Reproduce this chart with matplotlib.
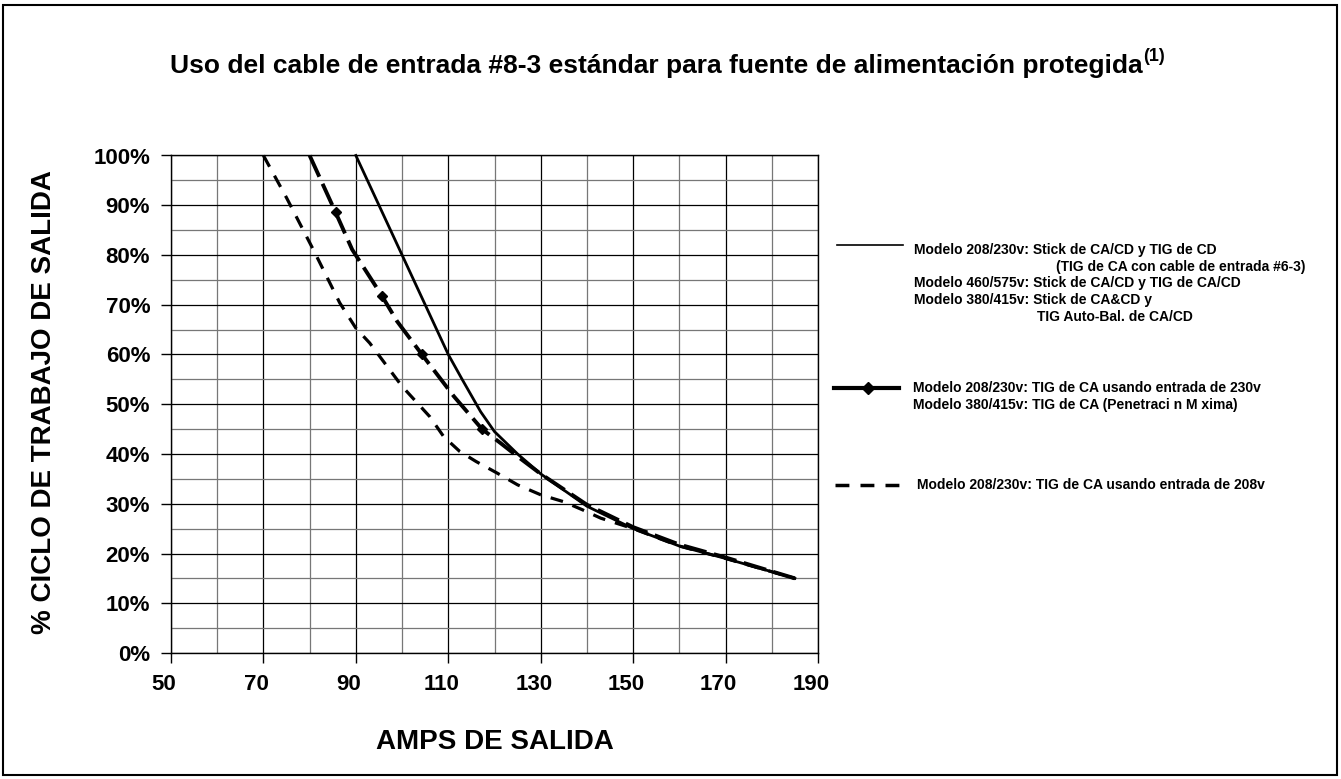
import matplotlib
matplotlib.use("Agg")
import matplotlib.pyplot as plt
import matplotlib.transforms as mtransforms
from matplotlib.lines import Line2D
from matplotlib.patches import Rectangle
from matplotlib.ticker import FuncFormatter

plt.rcParams['font.family'] = ['Liberation Sans', 'DejaVu Sans']
plt.rcParams['font.weight'] = 'bold'

# Data
amps_solid = [90, 100, 110, 113, 117, 120, 125, 130, 140, 150, 160, 170, 185]
duty_solid = [100, 80, 60, 55, 48.5, 44.5, 40, 36, 29.5, 25, 21.5, 19, 15]

amps_230 = [80, 85.6, 89.2, 95.7, 98.9, 104.3, 111.2, 117.3, 121.3, 125, 130, 140, 150, 160, 170, 185]
duty_230 = [100, 88.6, 81.1, 71.7, 66.7, 60, 51.6, 45, 42.2, 39.5, 36, 29.8, 25.3, 21.8, 19.2, 15]
diamond_idx = [1, 3, 5, 7]

amps_208 = [70, 75, 81, 86.5, 90, 93, 100, 106, 109, 112.5, 116, 120.5, 125, 130, 135, 139, 143, 150, 160, 170, 185]
duty_208 = [100, 91.5, 80.7, 70.4, 65.3, 62.3, 53.6, 47.5, 43.5, 40.5, 38.5, 36.2, 33.8, 31.8, 30.4, 28.8, 27.1, 25, 21.5, 19, 15]

x_ticks = [50, 70, 90, 110, 130, 150, 170, 190]
x_minor = [60, 80, 100, 120, 140, 160, 180]
y_ticks = [0, 10, 20, 30, 40, 50, 60, 70, 80, 90, 100]
y_minor = [5, 15, 25, 35, 45, 55, 65, 75, 85, 95]

title = "Uso del cable de entrada #8-3 estándar para fuente de alimentación protegida"
legend_solid = ["Modelo 208/230v: Stick de CA/CD y TIG de CD",
                "(TIG de CA con cable de entrada #6-3)",
                "Modelo 460/575v: Stick de CA/CD y TIG de CA/CD",
                "Modelo 380/415v: Stick de CA&CD y",
                "TIG Auto-Bal. de CA/CD"]
legend_230 = ["Modelo 208/230v: TIG de CA usando entrada de 230v",
              "Modelo 380/415v: TIG de CA (Penetraci n M xima)"]
legend_208 = ["Modelo 208/230v: TIG de CA usando entrada de 208v"]

W, H = 1341, 779
fig = plt.figure(figsize=(W / 100, H / 100), dpi=100)


def fx(px):
    return px / W


def fy(py):
    return 1 - py / H


ax = fig.add_axes([fx(171), fy(653), (818 - 171) / W, (653 - 155.5) / H])

dash_230 = (0, (6, 2))
dash_208 = (0, (4, 3.2))

ax.plot(amps_solid, duty_solid, color='black', lw=2, clip_on=False)
ax.plot(amps_230, duty_230, color='black', lw=2.8, linestyle=dash_230,
        marker='D', markersize=5, markevery=diamond_idx, clip_on=False)
ax.plot(amps_208, duty_208, color='black', lw=2.3, linestyle=dash_208, clip_on=False)

ax.set_xlim(50, 190)
ax.set_ylim(0, 100)
ax.set_xticks(x_ticks)
ax.set_xticks(x_minor, minor=True)
ax.set_yticks(y_ticks)
ax.set_yticks(y_minor, minor=True)
ax.yaxis.set_major_formatter(FuncFormatter(lambda v, p: f"{int(v)}%"))
ax.grid(which='major', color='black', lw=0.9)
ax.grid(which='minor', color='#777777', lw=0.9)
ax.set_axisbelow(True)
ax.tick_params(which='major', direction='out', length=7, width=1, labelsize=16, pad=8)
ax.tick_params(which='minor', length=0)
for s in ax.spines.values():
    s.set_color('black')
    s.set_linewidth(1)

# x tick labels sit a little left of their ticks
shift = mtransforms.ScaledTranslation(-7 / 100, 0, fig.dpi_scale_trans)
for lab in ax.get_xticklabels():
    lab.set_transform(lab.get_transform() + shift)

# Title with superscript
t = fig.text(fx(656), fy(73), title, ha='center', va='baseline', fontsize=19)
fig.canvas.draw()
bb = t.get_window_extent()
fig.text(bb.x1 / W + 1 / W, fy(73) + 12 / H, "(1)", ha='left', va='baseline', fontsize=13)

fig.text(fx(495), fy(742), "AMPS DE SALIDA", ha='center', va='center', fontsize=20)
fig.text(fx(44), fy(402), "% CICLO DE TRABAJO DE SALIDA", ha='center', va='center',
         rotation=90, fontsize=20)

# Legend
fig.add_artist(Line2D([fx(837), fx(903)], [fy(245)] * 2, transform=fig.transFigure,
                      color='black', lw=1.2))
solid_pos = [(914, 250), (1056, 267), (914, 283), (914, 300), (1037, 317)]
for txt, (x, y) in zip(legend_solid, solid_pos):
    fig.text(fx(x), fy(y), txt, ha='left', va='center', fontsize=10)

fig.add_artist(Line2D([fx(834), fx(868), fx(899)], [fy(388)] * 3, transform=fig.transFigure,
                      color='black', lw=3, marker='D', markersize=6, markevery=[1]))
for txt, y in zip(legend_230, [388, 405]):
    fig.text(fx(913), fy(y), txt, ha='left', va='center', fontsize=10)

fig.add_artist(Line2D([fx(835), fx(903)], [fy(485)] * 2, transform=fig.transFigure,
                      color='black', lw=2.5, linestyle=dash_208))
fig.text(fx(917), fy(485), legend_208[0], ha='left', va='center', fontsize=10)

# Frame around the whole figure
fig.add_artist(Rectangle((fx(3), 4 / H), 1334 / W, 770 / H, transform=fig.transFigure,
                         fill=False, ec='black', lw=1.5))

fig.savefig('out.png', dpi=100)
